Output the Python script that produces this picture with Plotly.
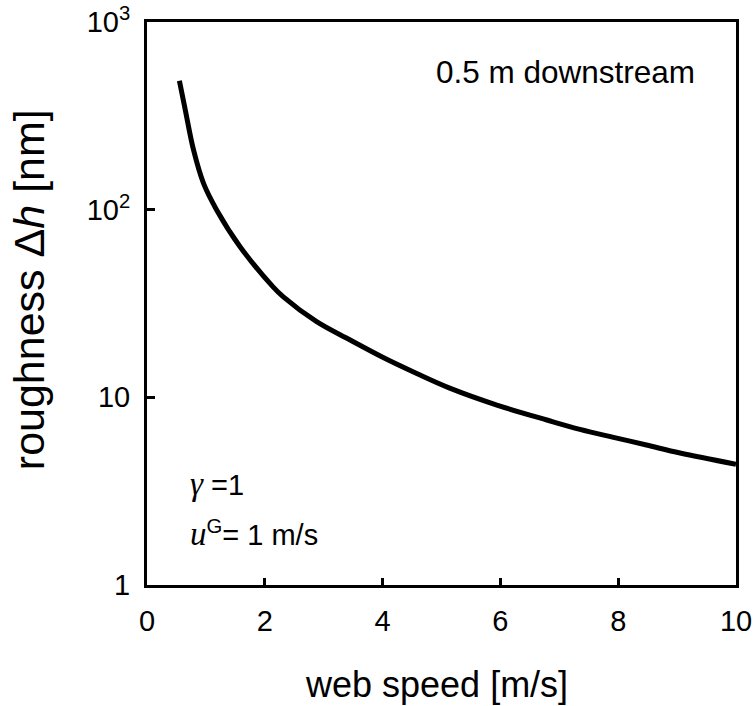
import plotly.graph_objects as go

# web speed [m/s]
web_speed = [0.55, 0.65, 0.79, 0.96, 1.18, 1.58, 2.14, 2.31, 2.88, 3.45,
             4.01, 4.58, 5.14, 5.94, 6.79, 7.35, 7.92, 8.48, 9.05, 10.0]
# roughness Δh [nm]
roughness = [487, 340, 208, 138, 100, 63.5, 38.8, 34.4, 25.3, 20.2,
             16.3, 13.4, 11.2, 9.1, 7.57, 6.75, 6.12, 5.57, 5.05, 4.4]

x_ticks = [0, 2, 4, 6, 8, 10]
y_ticks = [1, 10, 100, 1000]
y_ticktext = ["1", "10", "10<sup>2</sup>", "10<sup>3</sup>"]

FONT = "Liberation Sans, Arial, sans-serif"

fig = go.Figure()
fig.add_trace(go.Scatter(x=web_speed, y=roughness, mode="lines",
                         line=dict(color="black", width=5, shape="spline", smoothing=1.0),
                         showlegend=False, hoverinfo="skip"))

fig.update_layout(
    template="none",
    width=754, height=706,
    margin=dict(l=147, r=18, t=22, b=121, pad=0),
    paper_bgcolor="white", plot_bgcolor="white",
    font=dict(family=FONT, color="black"),
    xaxis=dict(range=[0, 10], tickvals=x_ticks, ticks="inside", ticklen=7, tickwidth=2.5,
               tickcolor="black", showline=True, linecolor="black", linewidth=3, mirror=True,
               showgrid=False, zeroline=False, tickfont=dict(size=29, family=FONT),
               ticklabelstandoff=8, automargin=False),
    yaxis=dict(type="log", range=[0, 3], tickvals=y_ticks, ticktext=y_ticktext,
               ticks="inside", ticklen=8, tickwidth=2.5, tickcolor="black",
               showline=True, linecolor="black", linewidth=3, mirror=True,
               showgrid=False, zeroline=False, tickfont=dict(size=29, family=FONT),
               ticklabelstandoff=8, automargin=False),
    annotations=[
        dict(text="web speed [m/s]", xref="paper", yref="paper", x=0.491, y=-0.1776,
             xanchor="center", yanchor="middle", showarrow=False,
             font=dict(size=36, family=FONT)),
        dict(text="roughness Δ<i>h</i> [nm]", xref="paper", yref="paper", x=-0.200, y=0.524,
             xanchor="center", yanchor="middle", showarrow=False, textangle=-90,
             font=dict(size=43, family=FONT)),
        dict(text="0.5 m downstream", xref="paper", yref="paper", x=0.7097, y=0.912,
             xanchor="center", yanchor="middle", showarrow=False,
             font=dict(size=31.5, family=FONT)),
        dict(text="<span style='font-family:Liberation Serif;font-size:33px'><i>γ</i></span> =1",
             xref="paper", yref="paper", x=0.0696, y=0.179,
             xanchor="left", yanchor="middle", showarrow=False,
             font=dict(size=29, family=FONT)),
        dict(text="<span style='font-family:Liberation Serif;font-size:33px'><i>u</i></span><sup>G</sup>= 1 m/s",
             xref="paper", yref="paper", x=0.0696, y=0.092,
             xanchor="left", yanchor="middle", showarrow=False,
             font=dict(size=29, family=FONT)),
    ],
)

fig.write_html("out.html")
